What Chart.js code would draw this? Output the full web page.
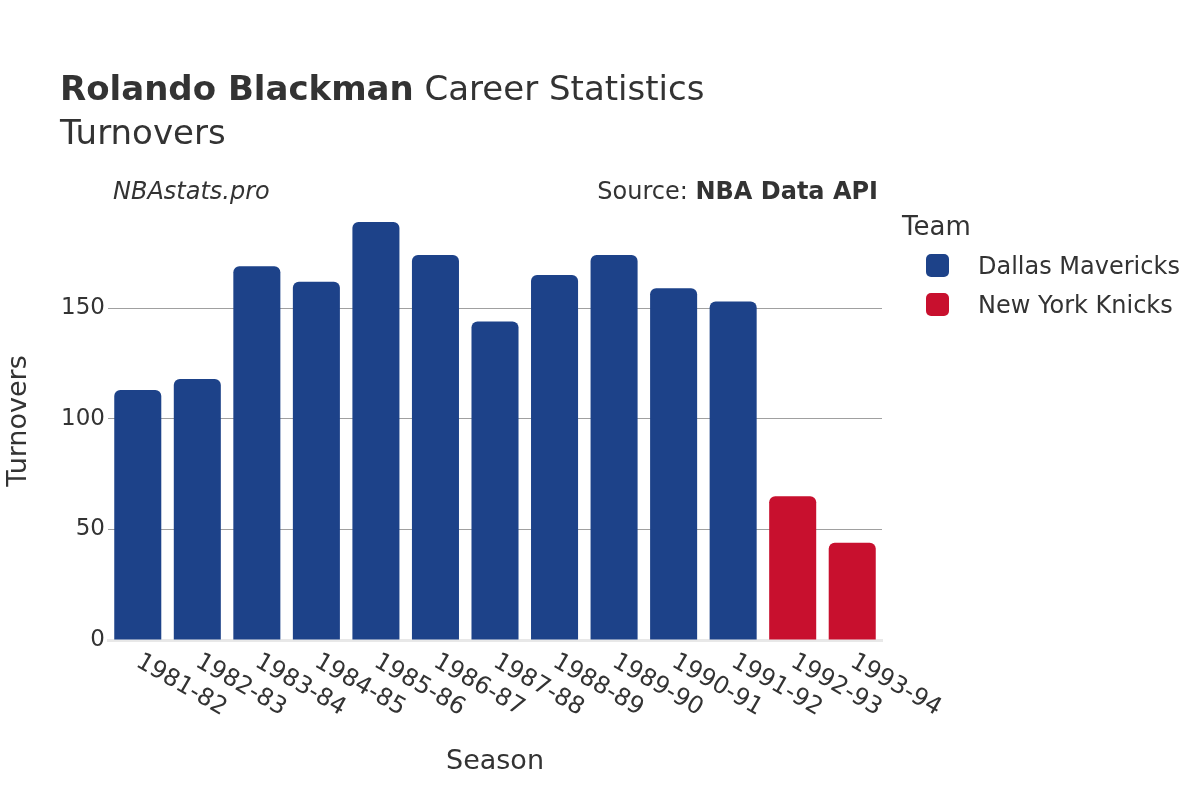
<!DOCTYPE html>
<html>
<head>
<meta charset="utf-8">
<script src="https://cdn.jsdelivr.net/npm/chart.js@4.4.1/dist/chart.umd.min.js"></script>
<style>
  html, body { margin: 0; padding: 0; background: #fff; }
  #wrap { position: relative; width: 1200px; height: 800px; font-family: "DejaVu Sans", sans-serif; color: #333; }
  #c { position: absolute; left: 0; top: 0; }
  .t { position: absolute; white-space: nowrap; line-height: 1; }
  .sw { position: absolute; width: 23px; height: 23px; border-radius: 5px; }
</style>
</head>
<body>
<div id="wrap">
  <canvas id="c" width="1200" height="800"></canvas>
  <div class="t" style="left:60px; top:71px; font-size:34px;"><b>Rolando Blackman</b> Career Statistics</div>
  <div class="t" style="left:60px; top:115px; font-size:34px;">Turnovers</div>
  <div class="t" style="left:113px; top:179px; font-size:24px; font-style:italic;">NBAstats.pro</div>
  <div class="t" style="right:322px; top:179px; font-size:24px;">Source: <b>NBA Data API</b></div>
  <div id="legend"></div>
</div>
<script>
const seasons = ["1981-82","1982-83","1983-84","1984-85","1985-86","1986-87","1987-88","1988-89","1989-90","1990-91","1991-92","1992-93","1993-94"];
const teams = ["Dallas Mavericks", "New York Knicks"];
const teamColors = ["#1d4289", "#c8102e"];
const dallasTurnovers = [113, 118, 169, 162, 189, 174, 144, 165, 174, 159, 153, null, null];
const knicksTurnovers = [null, null, null, null, null, null, null, null, null, null, null, 65, 44];
const yTicks = [0, 50, 100, 150];

// legend (HTML, real text)
const leg = document.getElementById('legend');
let html = '<div class="t" style="left:902px; top:213px; font-size:26px;">Team</div>';
teams.forEach((t, i) => {
  const y = 254 + i * 39;
  html += '<div class="sw" style="left:926px; top:' + y + 'px; background:' + teamColors[i] + ';"></div>';
  html += '<div class="t" style="left:978px; top:' + y + 'px; font-size:24px;">' + t + '</div>';
});
leg.innerHTML = html;

const xLabelPlugin = {
  id: 'xLabels',
  afterDraw(chart) {
    const ctx = chart.ctx;
    const xs = chart.scales.x;
    ctx.save();
    ctx.font = '24px "DejaVu Sans"';
    ctx.fillStyle = '#333';
    ctx.textAlign = 'left';
    ctx.textBaseline = 'middle';
    seasons.forEach((s, i) => {
      const x = xs.getPixelForTick(i);
      ctx.save();
      ctx.translate(x, 660);
      ctx.rotate(Math.PI / 6);
      ctx.fillText(s, 0, 0);
      ctx.restore();
    });
    ctx.restore();
  }
};

new Chart(document.getElementById('c'), {
  type: 'bar',
  data: {
    labels: seasons,
    datasets: [
      { label: teams[0], data: dallasTurnovers, backgroundColor: teamColors[0] },
      { label: teams[1], data: knicksTurnovers, backgroundColor: teamColors[1] }
    ]
  },
  options: {
    responsive: false,
    animation: false,
    devicePixelRatio: 1,
    layout: { padding: { left: 0, right: 318, top: 202, bottom: 0 } },
    datasets: {
      bar: {
        grouped: false,
        barPercentage: 0.79,
        categoryPercentage: 1.0,
        borderRadius: { topLeft: 6, topRight: 6, bottomLeft: 0, bottomRight: 0 },
        borderSkipped: 'start'
      }
    },
    plugins: {
      legend: { display: false },
      tooltip: { enabled: false },
      title: { display: false }
    },
    scales: {
      x: {
        afterFit(scale) { scale.height = 160; },
        grid: { display: false, drawTicks: false },
        border: { display: true, color: '#e8e8e8', width: 3 },
        ticks: { display: false },
        title: {
          display: true, text: 'Season', color: '#333',
          font: { family: 'DejaVu Sans', size: 27 },
          padding: { top: 0, bottom: 22 }
        }
      },
      y: {
        min: 0, max: 198,
        afterFit(scale) { scale.width = 108; },
        afterBuildTicks(scale) { scale.ticks = yTicks.map(v => ({ value: v })); },
        grid: {
          color: (c) => c.tick && c.tick.value === 0 ? 'rgba(0,0,0,0)' : '#a0a0a0',
          lineWidth: 1,
          drawTicks: false
        },
        border: { display: false },
        ticks: {
          color: '#333',
          font: { family: 'DejaVu Sans', size: 23 },
          padding: 3
        },
        title: {
          display: true, text: 'Turnovers', color: '#333',
          font: { family: 'DejaVu Sans', size: 27 },
          padding: { top: 3, bottom: 0 }
        }
      }
    }
  },
  plugins: [xLabelPlugin]
});
</script>
</body>
</html>
